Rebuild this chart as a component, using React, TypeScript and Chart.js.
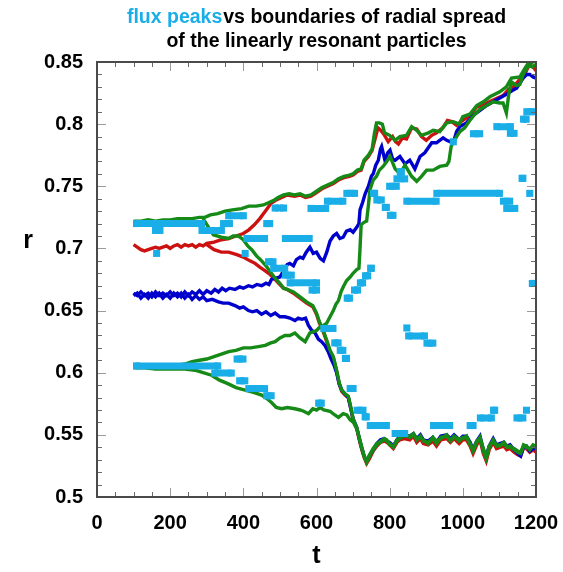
import React, { useEffect, useRef } from 'react';
import { Chart, registerables } from 'chart.js';

Chart.register(...registerables);

// ---- axes ----
const X_MIN = 0;
const X_MAX = 1200;
const X_STEP = 200;
const X_MINOR = 50;
const Y_MIN = 0.5;
const Y_MAX = 0.85;
const Y_STEP = 0.05;
const Y_MINOR = 0.01;

// ---- text ----
const TITLE_BLUE = 'flux peaks';
const TITLE_REST = 'vs boundaries of radial spread';
const TITLE_LINE2 = 'of the linearly resonant particles';
const X_TITLE = 't';
const Y_TITLE = 'r';

// ---- colours ----
const FLUX_COLOR = '#1AAEE8';
const RED = '#CC1111';
const BLUE = '#0000CC';
const GREEN = '#168A16';

// ---- boundaries of radial spread: [t, r] ----
const redUpper: [number, number][] = [
  [100, 0.703], [110, 0.701], [120, 0.699], [130, 0.698], [140, 0.699], [150, 0.7], [160, 0.701], [170, 0.7],
  [180, 0.701], [190, 0.702], [200, 0.7], [210, 0.702], [220, 0.703], [230, 0.701], [240, 0.703], [250, 0.702],
  [260, 0.703], [270, 0.701], [280, 0.703], [290, 0.702], [300, 0.704], [320, 0.705], [340, 0.707], [360, 0.708],
  [380, 0.71], [400, 0.712], [415, 0.715], [430, 0.719], [445, 0.724], [460, 0.73], [475, 0.736], [490, 0.739],
  [505, 0.741], [520, 0.743], [540, 0.742], [555, 0.743], [570, 0.741], [585, 0.742], [600, 0.745], [615, 0.748],
  [630, 0.75], [645, 0.752], [660, 0.755], [675, 0.757], [690, 0.758], [700, 0.759], [712, 0.762], [722, 0.763],
  [730, 0.77], [742, 0.774], [752, 0.779], [760, 0.788], [768, 0.797], [776, 0.795], [784, 0.792], [796, 0.786],
  [808, 0.79], [816, 0.786], [824, 0.784], [835, 0.789], [846, 0.788], [860, 0.797], [874, 0.796], [887, 0.79],
  [900, 0.787], [915, 0.791], [928, 0.793], [945, 0.797], [958, 0.803], [970, 0.802], [983, 0.799], [995, 0.802],
  [1010, 0.805], [1025, 0.809], [1038, 0.814], [1052, 0.815], [1065, 0.817], [1080, 0.819], [1095, 0.821],
  [1110, 0.823], [1125, 0.828], [1138, 0.83], [1150, 0.834], [1160, 0.838], [1172, 0.842], [1182, 0.848],
  [1192, 0.846], [1200, 0.843],
];

const redLower: [number, number][] = [
  [300, 0.703], [320, 0.699], [340, 0.697], [360, 0.697], [382, 0.695], [400, 0.693], [418, 0.69], [432, 0.688],
  [445, 0.685], [460, 0.682], [473, 0.679], [487, 0.675], [500, 0.671], [510, 0.668], [520, 0.667], [537, 0.664],
  [555, 0.66], [573, 0.656], [590, 0.653], [600, 0.647], [608, 0.64], [616, 0.635], [628, 0.625], [637, 0.617],
  [646, 0.612], [655, 0.601], [662, 0.591], [669, 0.585], [678, 0.582], [687, 0.58], [694, 0.571], [700, 0.562],
  [710, 0.555], [717, 0.546], [723, 0.539], [730, 0.532], [737, 0.527], [745, 0.531], [755, 0.537], [765, 0.541],
  [775, 0.544], [785, 0.545], [792, 0.544], [800, 0.542], [810, 0.539], [820, 0.544], [828, 0.546], [840, 0.547],
  [855, 0.546], [865, 0.549], [874, 0.544], [884, 0.547], [892, 0.543], [905, 0.542], [918, 0.545], [928, 0.541],
  [940, 0.546], [956, 0.547], [966, 0.544], [976, 0.547], [990, 0.543], [1000, 0.546], [1010, 0.546], [1020, 0.541],
  [1028, 0.535], [1038, 0.542], [1047, 0.546], [1056, 0.535], [1064, 0.529], [1072, 0.538], [1083, 0.544],
  [1092, 0.539], [1101, 0.54], [1112, 0.541], [1120, 0.538], [1129, 0.539], [1140, 0.536], [1150, 0.534],
  [1158, 0.533], [1166, 0.54], [1174, 0.539], [1183, 0.536], [1192, 0.538], [1200, 0.536],
];

const blueUpper: [number, number][] = [
  [100, 0.664], [110, 0.662], [120, 0.665], [130, 0.662], [140, 0.664], [150, 0.661], [160, 0.665], [170, 0.662],
  [180, 0.664], [190, 0.662], [200, 0.665], [210, 0.662], [220, 0.664], [230, 0.661], [240, 0.665], [250, 0.662],
  [260, 0.665], [270, 0.663], [280, 0.666], [290, 0.663], [300, 0.666], [312, 0.664], [322, 0.667], [332, 0.665],
  [342, 0.668], [352, 0.666], [362, 0.668], [377, 0.667], [390, 0.669], [400, 0.668], [414, 0.67], [425, 0.669],
  [437, 0.671], [450, 0.67], [462, 0.672], [470, 0.671], [477, 0.675], [487, 0.676], [500, 0.677], [512, 0.683],
  [520, 0.687], [527, 0.688], [537, 0.686], [545, 0.691], [555, 0.693], [563, 0.692], [572, 0.697], [582, 0.701],
  [591, 0.696], [600, 0.697], [610, 0.692], [619, 0.69], [628, 0.697], [637, 0.706], [646, 0.71], [655, 0.712],
  [664, 0.708], [673, 0.709], [682, 0.714], [692, 0.715], [700, 0.713], [710, 0.717], [716, 0.72], [719, 0.731],
  [726, 0.737], [733, 0.744], [742, 0.75], [750, 0.758], [755, 0.76], [762, 0.767], [769, 0.771], [775, 0.78],
  [778, 0.782], [787, 0.771], [795, 0.777], [801, 0.779], [808, 0.772], [815, 0.771], [828, 0.774], [842, 0.768],
  [855, 0.771], [869, 0.764], [883, 0.774], [896, 0.777], [915, 0.785], [928, 0.785], [946, 0.789], [956, 0.787],
  [965, 0.786], [974, 0.785], [983, 0.794], [992, 0.798], [1010, 0.801], [1028, 0.807], [1047, 0.811],
  [1065, 0.815], [1083, 0.818], [1101, 0.821], [1119, 0.824], [1135, 0.827], [1147, 0.829], [1156, 0.833],
  [1165, 0.837], [1175, 0.84], [1183, 0.84], [1192, 0.838], [1200, 0.837],
];

const blueLower: [number, number][] = [
  [100, 0.662], [110, 0.664], [120, 0.66], [130, 0.663], [140, 0.66], [150, 0.664], [160, 0.661], [170, 0.664],
  [180, 0.66], [190, 0.663], [200, 0.66], [210, 0.664], [220, 0.661], [230, 0.664], [240, 0.66], [250, 0.663],
  [260, 0.659], [270, 0.662], [280, 0.659], [290, 0.661], [300, 0.658], [315, 0.659], [332, 0.657], [345, 0.656],
  [360, 0.656], [377, 0.654], [390, 0.652], [400, 0.653], [414, 0.65], [425, 0.649], [437, 0.65], [450, 0.647],
  [462, 0.649], [475, 0.646], [487, 0.648], [500, 0.645], [514, 0.645], [527, 0.644], [541, 0.642], [550, 0.644],
  [560, 0.643], [570, 0.644], [578, 0.638], [587, 0.634], [596, 0.632], [605, 0.627], [614, 0.625], [623, 0.622],
  [632, 0.617], [640, 0.611], [648, 0.606], [655, 0.6], [662, 0.591], [669, 0.586], [678, 0.583], [687, 0.58],
  [694, 0.571], [700, 0.563], [710, 0.556], [717, 0.547], [723, 0.54], [730, 0.533], [737, 0.529], [745, 0.533],
  [755, 0.538], [765, 0.543], [775, 0.546], [785, 0.547], [792, 0.545], [800, 0.544], [810, 0.541], [820, 0.546],
  [828, 0.549], [840, 0.55], [855, 0.549], [865, 0.551], [874, 0.547], [884, 0.55], [892, 0.546], [905, 0.545],
  [918, 0.548], [928, 0.544], [940, 0.549], [956, 0.55], [966, 0.547], [976, 0.55], [990, 0.546], [1000, 0.549],
  [1010, 0.549], [1020, 0.544], [1028, 0.538], [1038, 0.545], [1047, 0.549], [1056, 0.538], [1064, 0.533],
  [1072, 0.541], [1083, 0.547], [1092, 0.542], [1101, 0.543], [1112, 0.544], [1120, 0.541], [1129, 0.542],
  [1140, 0.538], [1150, 0.535], [1158, 0.533], [1166, 0.54], [1174, 0.541], [1183, 0.537], [1192, 0.539],
  [1200, 0.539],
];

const greenAUpper: [number, number][] = [
  [100, 0.722], [120, 0.722], [140, 0.723], [160, 0.722], [180, 0.723], [200, 0.723], [220, 0.724], [240, 0.724],
  [260, 0.724], [280, 0.725], [295, 0.725], [310, 0.727], [330, 0.728], [350, 0.73], [370, 0.731], [395, 0.732],
  [415, 0.734], [435, 0.734], [455, 0.735], [470, 0.737], [485, 0.739], [495, 0.741], [510, 0.743], [525, 0.744],
  [540, 0.743], [555, 0.744], [570, 0.742], [585, 0.743], [600, 0.746], [615, 0.749], [630, 0.751], [645, 0.753],
  [660, 0.756], [675, 0.758], [690, 0.759], [700, 0.76], [712, 0.763], [722, 0.764], [730, 0.771], [742, 0.775],
  [752, 0.78], [758, 0.792], [764, 0.801], [772, 0.801], [780, 0.8], [786, 0.793], [800, 0.791], [815, 0.787],
  [828, 0.79], [846, 0.791], [860, 0.798], [874, 0.795], [887, 0.791], [906, 0.793], [919, 0.795], [937, 0.794],
  [956, 0.801], [974, 0.802], [990, 0.8], [1000, 0.806], [1019, 0.808], [1038, 0.815], [1056, 0.818],
  [1074, 0.822], [1101, 0.826], [1119, 0.83], [1133, 0.837], [1156, 0.838], [1170, 0.845], [1183, 0.851],
  [1190, 0.848],
];

const greenALower: [number, number][] = [
  [290, 0.724], [305, 0.717], [318, 0.711], [340, 0.709], [360, 0.708], [372, 0.71], [386, 0.71], [400, 0.707],
  [412, 0.702], [423, 0.699], [436, 0.694], [450, 0.69], [462, 0.686], [474, 0.681], [487, 0.676], [500, 0.672],
  [510, 0.668], [520, 0.667], [537, 0.665], [555, 0.661], [573, 0.657], [590, 0.654], [600, 0.648], [608, 0.641],
  [616, 0.636], [628, 0.626], [637, 0.618], [646, 0.613], [655, 0.602], [662, 0.592], [669, 0.586], [678, 0.583],
  [687, 0.581], [694, 0.572], [700, 0.563], [710, 0.556], [717, 0.547], [723, 0.54], [730, 0.533], [737, 0.528],
  [745, 0.533], [755, 0.538], [765, 0.542], [775, 0.545], [785, 0.546], [792, 0.545], [800, 0.543], [810, 0.54],
  [820, 0.545], [828, 0.548], [840, 0.549], [855, 0.549], [865, 0.551], [874, 0.546], [884, 0.549], [892, 0.545],
  [905, 0.544], [918, 0.547], [928, 0.543], [940, 0.548], [956, 0.549], [966, 0.546], [976, 0.549], [990, 0.545],
  [1000, 0.548], [1010, 0.548], [1020, 0.543], [1028, 0.537], [1038, 0.544], [1047, 0.548], [1056, 0.537],
  [1064, 0.531], [1072, 0.54], [1083, 0.546], [1092, 0.541], [1101, 0.542], [1112, 0.543], [1120, 0.54],
  [1129, 0.541], [1140, 0.538], [1150, 0.536], [1158, 0.535], [1166, 0.542], [1174, 0.541], [1183, 0.538],
  [1192, 0.542], [1200, 0.541],
];

const greenBUpper: [number, number][] = [
  [100, 0.606], [120, 0.606], [140, 0.606], [160, 0.605], [180, 0.606], [200, 0.606], [220, 0.606], [240, 0.607],
  [260, 0.609], [280, 0.61], [300, 0.611], [320, 0.613], [340, 0.615], [360, 0.617], [380, 0.618], [400, 0.62],
  [420, 0.62], [441, 0.621], [460, 0.622], [475, 0.624], [487, 0.625], [500, 0.628], [514, 0.63], [527, 0.63],
  [541, 0.632], [555, 0.628], [569, 0.625], [582, 0.632], [592, 0.633], [600, 0.634], [610, 0.637], [619, 0.638],
  [628, 0.64], [637, 0.645], [646, 0.65], [653, 0.655], [660, 0.658], [667, 0.665], [673, 0.669], [682, 0.674],
  [692, 0.677], [700, 0.68], [710, 0.683], [716, 0.684], [719, 0.7], [722, 0.719], [730, 0.721], [737, 0.722],
  [742, 0.735], [746, 0.747], [755, 0.755], [764, 0.758], [772, 0.763], [782, 0.766], [792, 0.77], [801, 0.774],
  [808, 0.769], [815, 0.764], [828, 0.76], [842, 0.767], [860, 0.758], [874, 0.754], [887, 0.758], [901, 0.763],
  [919, 0.763], [937, 0.766], [956, 0.767], [962, 0.77], [968, 0.782], [983, 0.79], [992, 0.794], [1005, 0.797],
  [1019, 0.803], [1033, 0.808], [1047, 0.812], [1065, 0.815], [1083, 0.818], [1101, 0.817], [1110, 0.817],
  [1119, 0.809], [1126, 0.825], [1133, 0.834], [1147, 0.831], [1156, 0.832], [1165, 0.84], [1179, 0.847],
  [1190, 0.846], [1200, 0.848],
];

const greenBLower: [number, number][] = [
  [100, 0.604], [130, 0.604], [160, 0.603], [200, 0.603], [240, 0.603], [268, 0.602], [290, 0.6], [313, 0.598],
  [335, 0.594], [359, 0.591], [380, 0.588], [405, 0.586], [430, 0.584], [450, 0.582], [465, 0.579], [477, 0.576],
  [490, 0.572], [505, 0.571], [520, 0.572], [541, 0.571], [555, 0.57], [565, 0.569], [578, 0.567], [590, 0.571],
  [600, 0.57], [610, 0.572], [620, 0.57], [637, 0.569], [650, 0.566], [660, 0.564], [673, 0.567], [683, 0.566],
  [692, 0.562], [701, 0.56], [710, 0.555], [716, 0.549], [723, 0.541], [730, 0.533], [737, 0.529], [745, 0.534],
  [755, 0.539], [765, 0.543], [775, 0.544], [785, 0.547], [792, 0.546], [800, 0.542], [810, 0.541], [820, 0.546],
  [828, 0.547], [840, 0.55], [855, 0.548], [865, 0.55], [874, 0.547], [884, 0.548], [892, 0.546], [905, 0.543],
  [918, 0.548], [928, 0.545], [940, 0.547], [956, 0.55], [966, 0.545], [976, 0.548], [990, 0.547], [1000, 0.547],
  [1010, 0.549], [1020, 0.542], [1028, 0.538], [1038, 0.545], [1047, 0.547], [1056, 0.539], [1064, 0.532],
  [1072, 0.541], [1083, 0.545], [1092, 0.542], [1101, 0.541], [1112, 0.544], [1120, 0.541], [1129, 0.54],
  [1140, 0.539], [1150, 0.537], [1158, 0.536], [1166, 0.541], [1174, 0.54], [1183, 0.539], [1192, 0.541],
  [1200, 0.54],
];

// ---- flux peaks: runs of markers [t first, t last, r] ----
const fluxRuns: [number, number, number][] = [
  [108, 286, 0.72], [160, 172, 0.7145], [163, 163, 0.696], [287, 340, 0.7145], [346, 362, 0.72],
  [360, 400, 0.7263], [405, 405, 0.696], [410, 458, 0.708], [464, 472, 0.72], [469, 481, 0.6893],
  [483, 513, 0.684], [487, 510, 0.7325], [515, 531, 0.6785], [515, 580, 0.708], [528, 600, 0.6723],
  [588, 600, 0.6665], [585, 625, 0.7322], [630, 672, 0.738], [683, 704, 0.7443], [620, 645, 0.6356],
  [650, 659, 0.624], [665, 672, 0.618], [679, 682, 0.6115], [606, 613, 0.5755], [692, 700, 0.5873],
  [383, 399, 0.611], [322, 367, 0.5997], [390, 404, 0.5935], [415, 458, 0.5872], [464, 476, 0.5815],
  [108, 330, 0.6055], [684, 690, 0.66], [704, 712, 0.6665], [720, 726, 0.6723], [734, 740, 0.678],
  [748, 750, 0.684], [711, 727, 0.5698], [733, 736, 0.5645], [747, 791, 0.5575], [815, 841, 0.5511],
  [847, 847, 0.636], [852, 895, 0.6296], [902, 918, 0.6238], [920, 964, 0.5575], [1020, 1028, 0.5575],
  [1048, 1078, 0.5636], [1084, 1087, 0.5698], [1148, 1164, 0.5636], [1174, 1174, 0.5698],
  [1190, 1193, 0.6718], [756, 759, 0.7443], [765, 777, 0.739], [788, 791, 0.733], [802, 809, 0.7266],
  [800, 818, 0.75], [820, 841, 0.756], [829, 832, 0.7617], [847, 927, 0.738], [929, 1100, 0.7443],
  [1111, 1128, 0.738], [1120, 1142, 0.7322], [974, 974, 0.7858], [1029, 1046, 0.7923], [1093, 1130, 0.798],
  [1130, 1140, 0.7926], [1166, 1173, 0.804], [1175, 1193, 0.81], [1162, 1164, 0.7564], [1183, 1183, 0.7443],
];

const TICK_FONT = '"Liberation Sans", Arial, sans-serif';
const TITLE_FONT = '"Liberation Sans", Arial, sans-serif';

function toPoints(a: [number, number][]) {
  return a.map(([x, y]) => ({ x, y }));
}

function fluxPoints(runs: [number, number, number][]) {
  const out: { x: number; y: number | null }[] = [];
  runs.forEach(([t0, t1, r]) => {
    out.push({ x: t0, y: r });
    if (t1 !== t0) out.push({ x: t1, y: r });
    out.push({ x: t1, y: null });
  });
  return out;
}

function fmtY(v: number) {
  return String(Number(v.toFixed(2)));
}

const decorPlugin = {
  id: 'decor',
  afterDraw(chart: any) {
    const { ctx, chartArea } = chart;
    const xs = chart.scales.x;
    const ys = chart.scales.y;
    const { left, right, top, bottom } = chartArea;
    ctx.save();
    // minor / major ticks, inside, on all four sides
    ctx.lineWidth = 1;
    for (let v = X_MIN; v <= X_MAX + 1e-9; v += X_MINOR) {
      const major = Math.abs(v / X_STEP - Math.round(v / X_STEP)) < 1e-6;
      const len = major ? 9 : 5;
      ctx.strokeStyle = major ? '#9a9a9a' : '#6a6a6a';
      const px = Math.round(xs.getPixelForValue(v)) + 0.5;
      ctx.beginPath();
      ctx.moveTo(px, bottom);
      ctx.lineTo(px, bottom - len);
      ctx.moveTo(px, top);
      ctx.lineTo(px, top + len);
      ctx.stroke();
    }
    const nY = Math.round((Y_MAX - Y_MIN) / Y_MINOR);
    for (let i = 0; i <= nY; i++) {
      const v = Y_MIN + i * Y_MINOR;
      const major = i % Math.round(Y_STEP / Y_MINOR) === 0;
      const len = major ? 9 : 5;
      ctx.strokeStyle = major ? '#9a9a9a' : '#6a6a6a';
      const py = Math.round(ys.getPixelForValue(v)) + 0.5;
      ctx.beginPath();
      ctx.moveTo(left, py);
      ctx.lineTo(left + len, py);
      ctx.moveTo(right, py);
      ctx.lineTo(right - len, py);
      ctx.stroke();
    }
    // frame
    ctx.strokeStyle = '#4a4a4a';
    ctx.lineWidth = 2;
    ctx.strokeRect(left, top, right - left, bottom - top);

    // title
    const cx = (left + right) / 2;
    ctx.font = `bold 19.5px ${TITLE_FONT}`;
    ctx.textBaseline = 'middle';
    ctx.textAlign = 'left';
    const wBlue = ctx.measureText(TITLE_BLUE).width;
    const gap = 1;
    const wRest = ctx.measureText(TITLE_REST).width;
    const start = cx - (wBlue + gap + wRest) / 2;
    ctx.fillStyle = FLUX_COLOR;
    ctx.fillText(TITLE_BLUE, start, 18);
    ctx.fillStyle = '#000';
    ctx.fillText(TITLE_REST, start + wBlue + gap, 18);
    ctx.textAlign = 'center';
    ctx.fillText(TITLE_LINE2, cx, 42);

    // axis titles
    ctx.font = `bold 25px ${TITLE_FONT}`;
    ctx.fillText(Y_TITLE, 28, 241);
    ctx.fillText(X_TITLE, cx, 556);
    ctx.restore();
  },
};

export default function App() {
  const ref = useRef<HTMLCanvasElement | null>(null);

  useEffect(() => {
    if (!ref.current) return;
    const line = (data: [number, number][], color: string, order: number) => ({
      data: toPoints(data),
      borderColor: color,
      backgroundColor: color,
      borderWidth: 3.4,
      pointRadius: 0,
      showLine: true,
      tension: 0,
      order,
    });
    const chart = new Chart(ref.current, {
      type: 'scatter',
      data: {
        datasets: [
          {
            label: 'flux peaks',
            data: fluxPoints(fluxRuns),
            showLine: true,
            spanGaps: false,
            borderColor: FLUX_COLOR,
            backgroundColor: FLUX_COLOR,
            borderWidth: 7,
            borderCapStyle: 'butt',
            pointStyle: 'rect',
            pointRadius: 5,
            pointBorderWidth: 0,
            order: 0,
          } as any,
          line(greenAUpper, GREEN, 1),
          line(greenALower, GREEN, 1),
          line(greenBUpper, GREEN, 1),
          line(greenBLower, GREEN, 1),
          line(blueUpper, BLUE, 2),
          line(blueLower, BLUE, 2),
          line(redUpper, RED, 3),
          line(redLower, RED, 3),
        ],
      },
      options: {
        responsive: false,
        animation: false,
        events: [],
        layout: { autoPadding: false, padding: { left: 0, right: 27, top: 62, bottom: 0 } },
        plugins: {
          legend: { display: false },
          tooltip: { enabled: false },
          title: { display: false },
        },
        scales: {
          x: {
            type: 'linear',
            min: X_MIN,
            max: X_MAX,
            afterFit: (s: any) => {
              s.height = 75;
              s.paddingLeft = 0;
              s.paddingRight = 0;
            },
            grid: { display: false, drawTicks: false },
            border: { display: false },
            ticks: {
              stepSize: X_STEP,
              padding: 14,
              color: '#000',
              maxRotation: 0,
              autoSkip: false,
              callback: (v: any) => String(Math.round(Number(v))),
              font: { family: TICK_FONT, size: 20, weight: 'bold' },
            },
          },
          y: {
            type: 'linear',
            min: Y_MIN,
            max: Y_MAX,
            afterFit: (s: any) => {
              s.width = 97;
              s.paddingTop = 0;
              s.paddingBottom = 0;
            },
            grid: { display: false, drawTicks: false },
            border: { display: false },
            ticks: {
              stepSize: Y_STEP,
              padding: 14,
              color: '#000',
              autoSkip: false,
              callback: (v: any) => fmtY(Number(v)),
              font: { family: TICK_FONT, size: 20, weight: 'bold' },
            },
          },
        },
      } as any,
      plugins: [decorPlugin],
    });
    return () => chart.destroy();
  }, []);

  return (
    <div style={{ position: 'fixed', left: 0, top: 0, width: 563, height: 572, background: '#fff' }}>
      <canvas ref={ref} width={563} height={572} style={{ display: 'block', width: 563, height: 572 }} />
    </div>
  );
}
